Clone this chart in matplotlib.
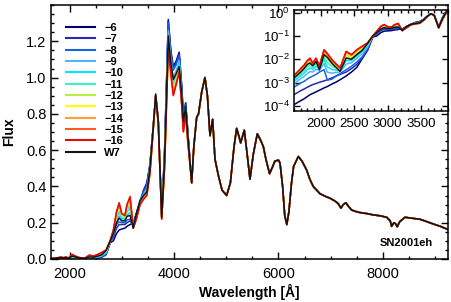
import numpy as np
import matplotlib
matplotlib.use("Agg")
import matplotlib.pyplot as plt

plt.rcParams['font.family'] = ['Liberation Sans', 'DejaVu Sans']
plt.rcParams['mathtext.fontset'] = 'custom'
plt.rcParams['mathtext.rm'] = 'Liberation Sans'
plt.rcParams['mathtext.it'] = 'Liberation Sans'

# ---------------- data ----------------
labels = ['\u22126', '\u22127', '\u22128', '\u22129', '\u221210', '\u221211',
          '\u221212', '\u221213', '\u221214', '\u221215', '\u221216', 'W7']
colors = ['#00006e', '#2828b4', '#1464e6', '#50b4ff', '#00e6ff', '#40f0c8',
          '#b4f040', '#ffff00', '#ffa028', '#ff5a1e', '#e60a0a', '#141414']

# UV part: log10 flux
wave_uv = [1600, 1700, 1750, 1800, 1840, 1880, 1930, 1980, 2050, 2100, 2170,
           2230, 2290, 2380, 2460, 2540, 2620, 2700]
logf_uv_m6 = [-3.95, -3.78, -3.70, -3.60, -3.52, -3.47, -3.40, -3.33, -3.23, -3.17, -3.06, -2.98, -2.88, -2.72, -2.55, -2.35, -1.98, -1.62]
logf_uv_m7 = [-3.52, -3.35, -3.28, -3.20, -3.14, -3.09, -3.04, -2.99, -2.93, -2.88, -2.80, -2.72, -2.65, -2.55, -2.40, -2.22, -1.95, -1.60]
logf_uv_m8 = [-3.20, -3.02, -2.95, -2.85, -2.78, -2.72, -2.65, -2.55, -2.45, -2.90, -2.85, -2.72, -2.62, -2.45, -2.30, -2.12, -1.90, -1.55]
logf_uv_m9 = [-3.05, -2.83, -2.74, -2.61, -2.53, -2.55, -2.44, -2.47, -2.19, -2.56, -2.60, -2.56, -2.55, -2.21, -2.15, -1.96, -1.76, -1.48]
logf_uv_m10 = [-2.94, -2.71, -2.60, -2.45, -2.37, -2.44, -2.30, -2.42, -2.02, -2.33, -2.44, -2.46, -2.50, -2.06, -2.05, -1.86, -1.67, -1.43]
logf_uv_m11 = [-2.87, -2.62, -2.50, -2.33, -2.24, -2.36, -2.20, -2.37, -1.89, -2.15, -2.31, -2.38, -2.46, -1.94, -1.98, -1.78, -1.60, -1.39]
logf_uv_m12 = [-2.81, -2.54, -2.41, -2.23, -2.14, -2.29, -2.11, -2.34, -1.79, -2.02, -2.21, -2.32, -2.43, -1.84, -1.92, -1.71, -1.55, -1.36]
logf_uv_m13 = [-2.76, -2.49, -2.35, -2.16, -2.07, -2.24, -2.05, -2.32, -1.71, -1.91, -2.14, -2.27, -2.41, -1.77, -1.87, -1.66, -1.50, -1.34]
logf_uv_m14 = [-2.73, -2.44, -2.30, -2.11, -2.01, -2.20, -2.00, -2.30, -1.65, -1.83, -2.08, -2.24, -2.39, -1.72, -1.84, -1.63, -1.47, -1.32]
logf_uv_m15 = [-2.71, -2.42, -2.27, -2.07, -1.98, -2.18, -1.97, -2.29, -1.62, -1.78, -2.05, -2.22, -2.38, -1.68, -1.82, -1.61, -1.45, -1.31]
logf_uv_m16 = [-2.69, -2.40, -2.25, -2.05, -1.95, -2.16, -1.95, -2.28, -1.59, -1.75, -2.02, -2.20, -2.37, -1.66, -1.80, -1.59, -1.44, -1.30]
logf_uv_w7 = [-2.80, -2.55, -2.40, -2.22, -2.16, -2.28, -2.10, -2.45, -1.80, -1.92, -2.18, -2.35, -2.52, -1.95, -2.00, -1.80, -1.62, -1.33]

# near-UV / blue part: linear flux
wave_mid = [2780, 2840, 2900, 2950, 3000, 3060, 3100, 3160, 3220, 3280, 3350, 3420,
            3480, 3540, 3600, 3650, 3700, 3765, 3820, 3891, 3940, 3987, 4040, 4100,
            4150, 4180, 4224, 4260]
f_mid_m6 = [0.09, 0.10, 0.14, 0.16, 0.165, 0.17, 0.18, 0.19, 0.20, 0.25, 0.31, 0.38, 0.42, 0.52, 0.72, 0.90, 0.76, 0.24, 0.60, 1.32, 1.15, 1.06, 1.09, 1.14, 0.95, 0.78, 0.86, 0.72]
f_mid_m7 = [0.095, 0.12, 0.17, 0.19, 0.19, 0.19, 0.20, 0.21, 0.19, 0.25, 0.32, 0.38, 0.41, 0.52, 0.72, 0.90, 0.76, 0.24, 0.59, 1.31, 1.14, 1.05, 1.08, 1.13, 0.94, 0.78, 0.86, 0.72]
f_mid_m8 = [0.10, 0.13, 0.19, 0.205, 0.20, 0.20, 0.215, 0.22, 0.18, 0.25, 0.32, 0.37, 0.40, 0.52, 0.72, 0.90, 0.76, 0.235, 0.58, 1.30, 1.13, 1.04, 1.07, 1.12, 0.93, 0.77, 0.85, 0.71]
f_mid_m9 = [0.10, 0.14, 0.21, 0.237, 0.215, 0.212, 0.241, 0.258, 0.177, 0.241, 0.314, 0.358, 0.385, 0.505, 0.714, 0.90, 0.754, 0.23, 0.556, 1.258, 1.097, 0.998, 1.037, 1.093, 0.903, 0.749, 0.835, 0.695]
f_mid_m10 = [0.10, 0.145, 0.225, 0.258, 0.225, 0.22, 0.258, 0.283, 0.175, 0.235, 0.31, 0.35, 0.375, 0.495, 0.71, 0.90, 0.75, 0.228, 0.54, 1.23, 1.075, 0.97, 1.015, 1.075, 0.885, 0.735, 0.825, 0.685]
f_mid_m11 = [0.10, 0.15, 0.235, 0.273, 0.233, 0.226, 0.27, 0.301, 0.174, 0.231, 0.307, 0.344, 0.368, 0.488, 0.707, 0.90, 0.747, 0.225, 0.528, 1.209, 1.059, 0.949, 0.999, 1.062, 0.872, 0.725, 0.818, 0.678]
f_mid_m12 = [0.10, 0.153, 0.244, 0.286, 0.239, 0.231, 0.28, 0.316, 0.172, 0.227, 0.305, 0.339, 0.362, 0.482, 0.705, 0.90, 0.745, 0.223, 0.518, 1.192, 1.045, 0.932, 0.985, 1.051, 0.861, 0.716, 0.812, 0.672]
f_mid_m13 = [0.10, 0.156, 0.25, 0.295, 0.243, 0.234, 0.288, 0.328, 0.171, 0.224, 0.303, 0.336, 0.357, 0.477, 0.703, 0.90, 0.743, 0.222, 0.511, 1.18, 1.035, 0.92, 0.975, 1.043, 0.853, 0.71, 0.807, 0.667]
f_mid_m14 = [0.10, 0.158, 0.255, 0.303, 0.247, 0.237, 0.294, 0.336, 0.171, 0.222, 0.301, 0.333, 0.354, 0.474, 0.701, 0.90, 0.741, 0.221, 0.506, 1.17, 1.028, 0.91, 0.968, 1.036, 0.846, 0.705, 0.804, 0.664]
f_mid_m15 = [0.10, 0.159, 0.258, 0.307, 0.249, 0.239, 0.297, 0.341, 0.17, 0.221, 0.301, 0.331, 0.352, 0.472, 0.701, 0.90, 0.741, 0.22, 0.502, 1.164, 1.023, 0.904, 0.963, 1.033, 0.843, 0.702, 0.802, 0.662]
f_mid_m16 = [0.10, 0.16, 0.26, 0.31, 0.25, 0.24, 0.30, 0.345, 0.17, 0.22, 0.30, 0.33, 0.35, 0.47, 0.70, 0.90, 0.74, 0.22, 0.50, 1.16, 1.02, 0.90, 0.96, 1.03, 0.84, 0.70, 0.80, 0.66]
f_mid_w7 = [0.10, 0.14, 0.20, 0.225, 0.21, 0.21, 0.235, 0.24, 0.17, 0.25, 0.32, 0.35, 0.37, 0.50, 0.72, 0.91, 0.76, 0.23, 0.55, 1.23, 1.08, 0.99, 1.02, 1.06, 0.90, 0.76, 0.84, 0.70]

# optical part, common to all models
wave_opt = [4339, 4380, 4434, 4470, 4530, 4593, 4640, 4689, 4740, 4785, 4850, 4920,
            5008, 5080, 5150, 5200, 5240, 5276, 5346, 5400, 5455, 5520, 5595, 5650,
            5710, 5760, 5830, 5890, 5933, 6000, 6029, 6080, 6120, 6160, 6200, 6250,
            6290, 6380, 6450, 6540, 6600, 6666, 6794, 6900, 6986, 7080, 7145, 7196,
            7240, 7292, 7340, 7401, 7480, 7560, 7700, 7815, 7950, 8071, 8140, 8166,
            8210, 8240, 8274, 8320, 8421, 8550, 8708, 8850, 8963, 9100, 9250]
flux_opt = [0.42, 0.62, 0.78, 0.80, 0.92, 1.00, 0.90, 0.68, 0.77, 0.55, 0.46, 0.38,
            0.35, 0.42, 0.62, 0.72, 0.68, 0.64, 0.71, 0.58, 0.44, 0.58, 0.69, 0.66,
            0.62, 0.55, 0.47, 0.51, 0.54, 0.545, 0.53, 0.40, 0.24, 0.19, 0.26, 0.42,
            0.51, 0.565, 0.54, 0.49, 0.44, 0.40, 0.36, 0.345, 0.335, 0.32, 0.305, 0.28,
            0.30, 0.31, 0.29, 0.27, 0.262, 0.256, 0.25, 0.243, 0.238, 0.23, 0.21, 0.18,
            0.20, 0.195, 0.178, 0.205, 0.23, 0.225, 0.219, 0.205, 0.193, 0.18, 0.162]

uv_sets = [logf_uv_m6, logf_uv_m7, logf_uv_m8, logf_uv_m9, logf_uv_m10, logf_uv_m11,
           logf_uv_m12, logf_uv_m13, logf_uv_m14, logf_uv_m15, logf_uv_m16, logf_uv_w7]
mid_sets = [f_mid_m6, f_mid_m7, f_mid_m8, f_mid_m9, f_mid_m10, f_mid_m11,
            f_mid_m12, f_mid_m13, f_mid_m14, f_mid_m15, f_mid_m16, f_mid_w7]

wave_all = np.array(wave_uv + wave_mid + wave_opt, dtype=float)
spectra = [np.concatenate([10.0 ** np.array(u), np.array(m), np.array(flux_opt)])
           for u, m in zip(uv_sets, mid_sets)]

# ---------------- figure ----------------
fig = plt.figure(figsize=(4.52, 3.02), dpi=100)
ax = fig.add_axes([50.7 / 452, 43 / 302, 397 / 452, 254 / 302])

for s, c, lab in zip(spectra, colors, labels):
    ax.plot(wave_all, s, color=c, lw=1.1, label=lab, solid_joinstyle='round')

ax.set_xlim(1640, 9240)
ax.set_ylim(0, 1.4)
ax.set_xticks([2000, 4000, 6000, 8000])
ax.set_xticks(np.arange(2000, 9201, 500), minor=True)
ax.set_yticks(np.arange(0, 1.21, 0.2))
ax.set_yticks(np.arange(0, 1.401, 0.05), minor=True)
ax.set_yticklabels(['0.0', '0.2', '0.4', '0.6', '0.8', '1.0', '1.2'])
ax.tick_params(which='both', direction='in', top=True, right=True, width=1.0,
               labelsize=10.5, color='black')
ax.tick_params(which='major', length=5)
ax.tick_params(which='minor', length=2.5)
ax.tick_params(axis='x', pad=6)
ax.tick_params(axis='y', pad=3)
for sp in ax.spines.values():
    sp.set_linewidth(1.1)
ax.set_xlabel('Wavelength [\u00c5]', fontsize=10, fontweight='bold', labelpad=2)
ax.set_ylabel('Flux', fontsize=10, fontweight='bold', labelpad=7)

leg = ax.legend(loc='upper left', bbox_to_anchor=(0.02, 0.96), frameon=False,
                prop={'size': 8, 'weight': 'bold'}, handlelength=2.6,
                handletextpad=0.8, labelspacing=0.12, borderpad=0.2)
for line in leg.get_lines():
    line.set_linewidth(1.5)

ax.text(0.963, 0.064, 'SN2001eh', transform=ax.transAxes, ha='right', va='center',
        fontsize=8, fontweight='bold')

# inset
axi = fig.add_axes([294 / 452, (302 - 111) / 302, 153.7 / 452, 101 / 302])
for s, c in zip(spectra, colors):
    axi.plot(wave_all, s, color=c, lw=1.1, solid_joinstyle='round')
axi.set_yscale('log')
axi.set_xlim(1600, 3900)
axi.set_ylim(6e-5, 1.3)
axi.set_xticks([2000, 2500, 3000, 3500])
axi.set_xticks(np.arange(1600, 3901, 100), minor=True)
axi.set_yticks([1e-4, 1e-3, 1e-2, 1e-1, 1e0])
axi.set_yticklabels(['$10^{-4}$', '$10^{-3}$', '$10^{-2}$', '$10^{-1}$', '$10^{0}$'])
axi.yaxis.set_minor_locator(matplotlib.ticker.NullLocator())
axi.tick_params(which='both', direction='in', top=True, right=True, width=1.0,
                labelsize=9.5)
axi.tick_params(which='major', length=4)
axi.tick_params(which='minor', length=2)
axi.tick_params(axis='x', pad=5)
axi.tick_params(axis='y', pad=3)
for sp in axi.spines.values():
    sp.set_linewidth(1.1)

fig.savefig('out.png', dpi=100)
